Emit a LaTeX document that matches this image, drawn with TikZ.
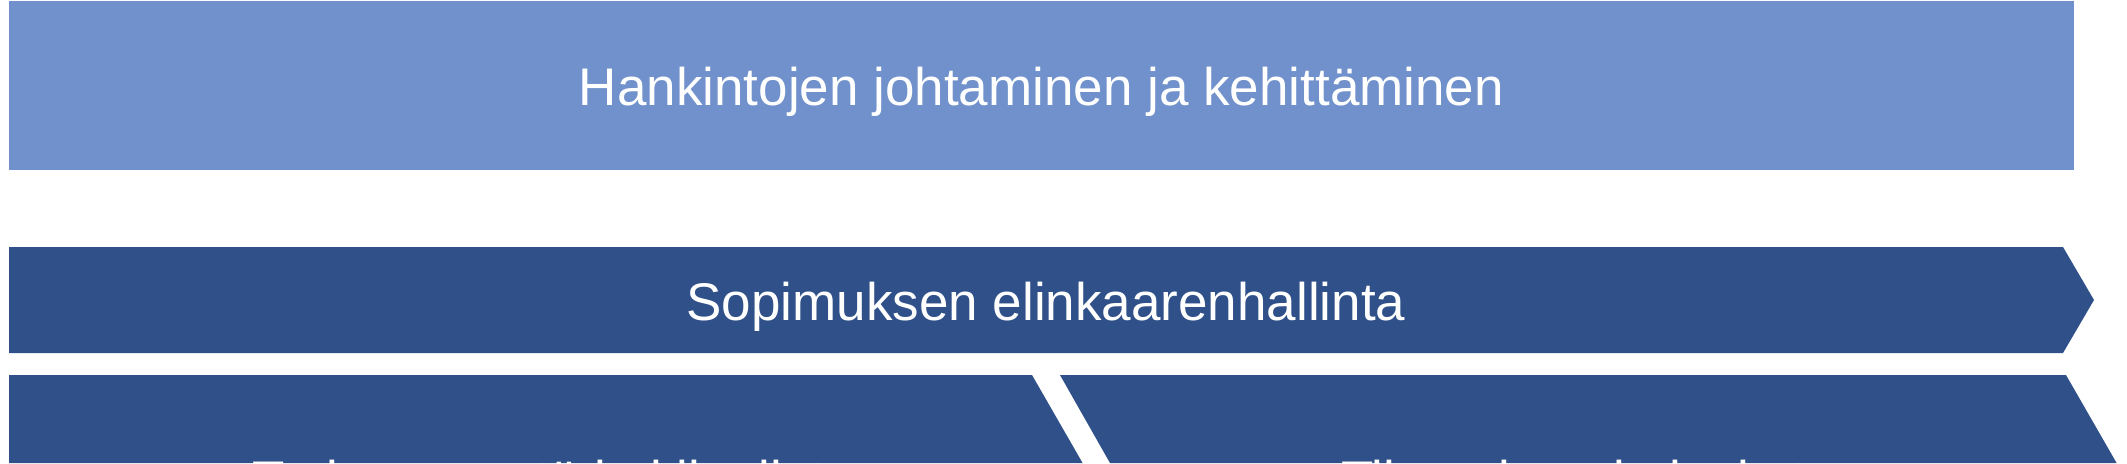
\documentclass[tikz,border=0pt]{standalone}
\usepackage{fontspec}
\setmainfont{Liberation Sans}
\definecolor{hanklight}{RGB}{112,145,203}
\definecolor{hankdark}{RGB}{47,80,137}
\tikzset{
  bandtext/.style={text=white,inner sep=0pt,font=\fontsize{26.5}{32}\selectfont},
}
\begin{document}
\begin{tikzpicture}[x=0.5pt,y=-0.5pt]
    \def\lft{9}
    \def\slant{0.575}
    \useasboundingbox (0,0) rectangle (2127,463);
    \clip (0,0) rectangle (2127,463);

    \fill[hanklight] (\lft,1) rectangle (2074,170);
    \node[bandtext,anchor=base] (johto) at (1041.5,105) {Hankintojen johtaminen ja kehittäminen};

    \fill[hankdark] (\lft,247) -- (2063,247) -- (2094,300) -- (2063,353) -- (\lft,353) -- cycle;
    \node[bandtext,anchor=base] (elinkaari) at (1046,320) {Sopimuksen elinkaarenhallinta};

    \fill[hankdark] (\lft,375) -- (1032,375) -- ++(\slant*88,88) -- (\lft,463) -- cycle;
    \fill[hankdark] (1060,375) -- (2066,375) -- ++(\slant*88,88) -- (1110,463) -- cycle;
    \node[bandtext,anchor=base west] (kilpailu) at (252,498) {Tarjouspyyntö ja kilpailutus};
    \node[bandtext,anchor=base west] (tilaus) at (1341,498) {Tilaaminen ja laskutus};
  \end{tikzpicture}
\end{document}
